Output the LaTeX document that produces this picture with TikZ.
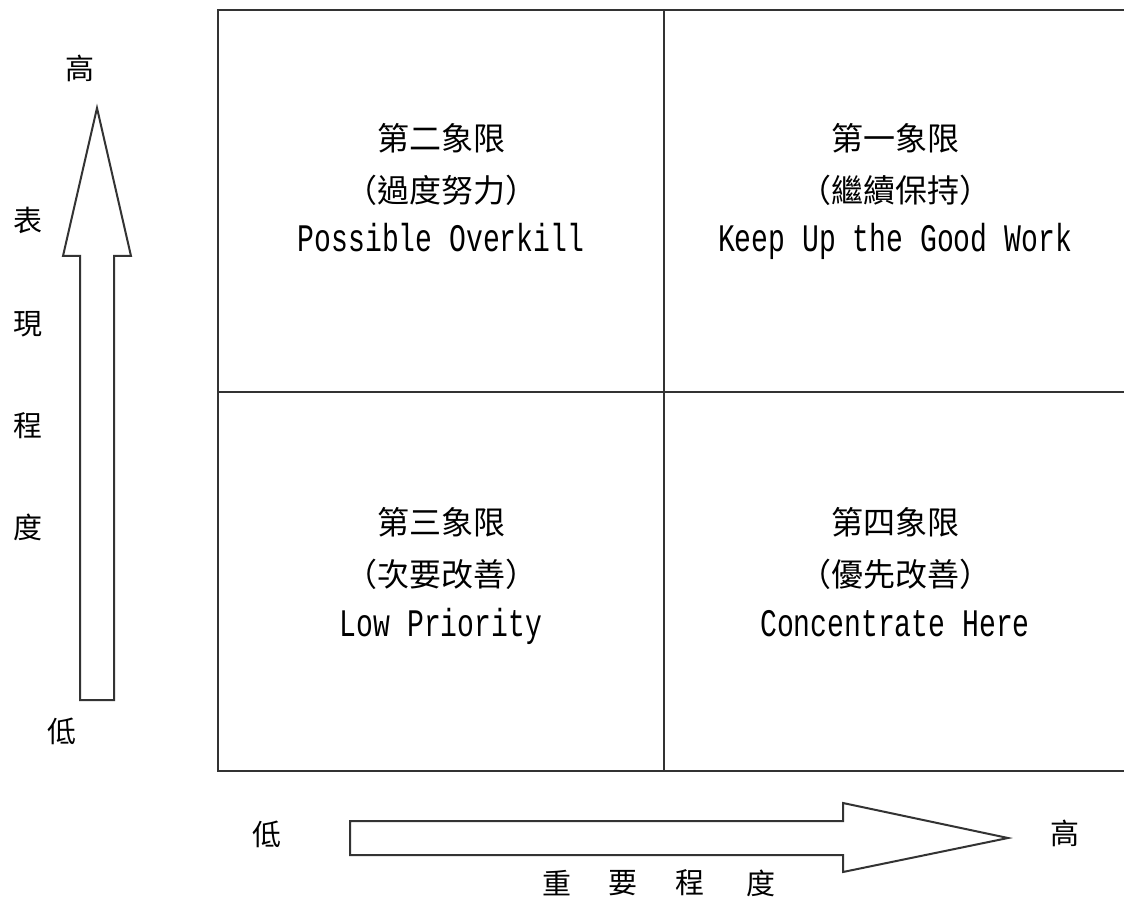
\documentclass[tikz,border=0pt]{standalone}
\usepackage{fontspec}
\newfontfamily\cjkfont{Noto Sans CJK TC}
\newfontfamily\latinfont[FakeStretch=0.72]{Liberation Mono}
\definecolor{linecol}{HTML}{333333}
\begin{document}
\begin{tikzpicture}[x=1pt,y=-1pt,
  gridline/.style={draw=linecol,line width=2pt},
  arrowshape/.style={draw=linecol,line width=2pt,fill=white,line join=miter},
  cjkq/.style={inner sep=0pt,anchor=center,font=\cjkfont\fontsize{32}{38}\selectfont},
  latq/.style={inner sep=0pt,anchor=base,font=\latinfont\fontsize{39}{44}\selectfont},
  axislab/.style={inner sep=0pt,anchor=center,font=\cjkfont\fontsize{29}{34}\selectfont}]
\clip (0,0) rectangle (1124,901);
\useasboundingbox (0,0) rectangle (1124,901);
\fill[white] (0,0) rectangle (1124,901);
% grid
\draw[gridline] (1140,10) -- (218,10) -- (218,771) -- (1140,771);
\draw[gridline] (664,10) -- (664,771);
\draw[gridline] (218,392) -- (1140,392);
% vertical arrow
\draw[arrowshape] (80,700) -- (80,256) -- (63,256) -- (97,108) -- (131,256) -- (114,256) -- (114,700) -- cycle;
% horizontal arrow
\draw[arrowshape] (350,821) -- (843,821) -- (843,803) -- (1008,838) -- (843,872) -- (843,855) -- (350,855) -- cycle;
% quadrant texts
\node[cjkq] (q2a) at (441,138) {第二象限};
\node[cjkq] (q2b) at (441,190) {（過度努力）};
\node[latq] (q2c) at (441,252) {Possible Overkill};
\node[cjkq] (q1a) at (895,138) {第一象限};
\node[cjkq] (q1b) at (895,190) {（繼續保持）};
\node[latq] (q1c) at (895,252) {Keep Up the Good Work};
\node[cjkq] (q3a) at (441,522) {第三象限};
\node[cjkq] (q3b) at (441,574) {（次要改善）};
\node[latq] (q3c) at (441,636) {Low Priority};
\node[cjkq] (q4a) at (895,522) {第四象限};
\node[cjkq] (q4b) at (895,574) {（優先改善）};
\node[latq] (q4c) at (895,636) {Concentrate Here};
% vertical axis labels
\node[axislab] (vhigh) at (80,68) {高};
\node[axislab] (v1) at (28,220) {表};
\node[axislab] (v2) at (28,324) {現};
\node[axislab] (v3) at (28,426) {程};
\node[axislab] (v4) at (28,527) {度};
\node[axislab] (vlow) at (62,731) {低};
% horizontal axis labels
\node[axislab] (hlow) at (267,834) {低};
\node[axislab] (hhigh) at (1065,833) {高};
\node[axislab] (h1) at (557,883) {重};
\node[axislab] (h2) at (623,883) {要};
\node[axislab] (h3) at (690,883) {程};
\node[axislab] (h4) at (761,883) {度};
\end{tikzpicture}
\end{document}
